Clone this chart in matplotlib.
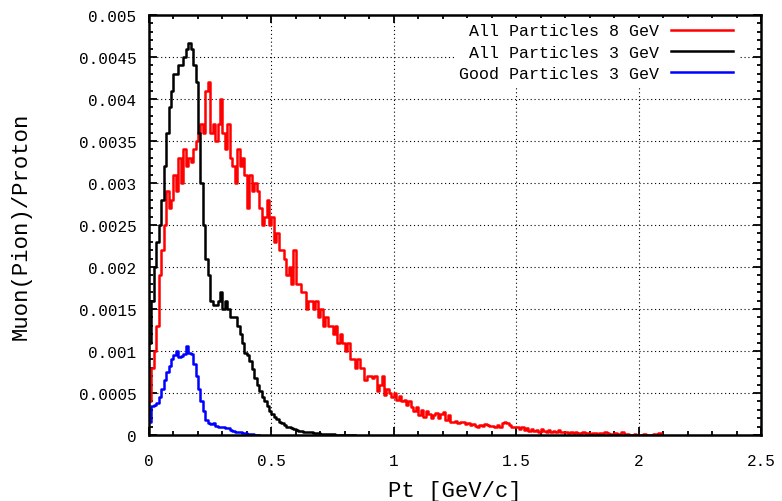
import numpy as np
import matplotlib
matplotlib.use("Agg")
import matplotlib.pyplot as plt
from matplotlib.ticker import MultipleLocator, FuncFormatter

plt.rcParams["font.family"] = ["Liberation Mono", "DejaVu Sans Mono"]

bin_width = 0.01

# All Particles 8 GeV (red), one value per 0.01 GeV/c bin starting at 0
all_8gev = [
    0.0004, 0.0008, 0.001, 0.0013, 0.0019, 0.0022, 0.0025, 0.0029, 0.0027, 0.0028,
    0.0031, 0.0029, 0.0033, 0.003, 0.0034, 0.0032, 0.0033, 0.00325, 0.0034, 0.0035,
    0.0036, 0.0037, 0.0036, 0.0041, 0.0042, 0.0036, 0.0037, 0.0035, 0.0037, 0.004,
    0.0036, 0.0034, 0.0037, 0.0033, 0.0032, 0.003, 0.0034, 0.0032, 0.0033, 0.0031,
    0.0027, 0.0031, 0.0029, 0.003, 0.0029, 0.0027, 0.0025, 0.0026, 0.0028, 0.0025,
    0.0026, 0.0023, 0.0024, 0.0022, 0.0022, 0.0021, 0.0019, 0.002, 0.0018, 0.0022,
    0.0018, 0.0018, 0.0017, 0.0017, 0.0015, 0.0016, 0.0016, 0.0015, 0.0016, 0.0014,
    0.0015, 0.0013, 0.0014, 0.0013, 0.0013, 0.0012, 0.0013, 0.0011, 0.0012, 0.0011,
    0.001, 0.0011, 0.0009, 0.0009, 0.0008, 0.0009, 0.0008, 0.0008, 0.00065, 0.0007,
    0.0007, 0.00068, 0.0007, 0.00052, 0.0006, 0.0007, 0.00048, 0.00055, 0.0005, 0.00045,
    0.0005, 0.00042, 0.00046, 0.0004, 0.00042, 0.00036, 0.0004, 0.00033, 0.00028, 0.00033,
    0.00024, 0.0003, 0.00022, 0.00028, 0.00025, 0.0002, 0.00024, 0.00026, 0.0002, 0.00025,
    0.00027, 0.00018, 0.00024, 0.00016, 0.00015, 0.00017, 0.00014, 0.00016, 0.00015, 0.00013,
    0.00014, 0.00012, 0.00013, 0.00011, 0.0001, 0.00012, 0.00011, 0.00013, 0.00012, 0.00011,
    0.00011, 0.0001, 0.00012, 0.0001, 0.00014, 0.00016, 0.00014, 0.00012, 0.0001, 0.00009,
    0.0001, 0.00007, 0.00009, 0.00006, 0.00008, 0.00005, 0.00007, 0.00005, 0.00006, 0.00004,
    0.00007, 0.00005, 0.00004, 0.00006, 0.00004, 0.00005, 0.00003, 0.00006, 0.00003, 0.00004,
    0.00003, 0.00002, 0.00003, 0.00002, 0.00003, 0.00002, 0.00002, 0.00003, 0.00002, 0.00002,
    0.00001, 0.00002, 0.00002, 0.00001, 0.00002, 0.00001, 0.00003, 0.00002, 0.00001, 0.00001,
    0.00002, 0.00001, 0.00001, 0.00003, 0.00001, 0.00001, 0.000005, 0.000005, 0.00001, 0.000005,
    0.000005, 0.000005, 0.00001, 0.000005, 0.000005, 0.000005, 0.00001, 0.000005, 0.000025,
]

# All Particles 3 GeV (black)
all_3gev = [
    0.0011, 0.0016, 0.002, 0.0023, 0.0025, 0.0028, 0.0032, 0.0036, 0.0039, 0.0041,
    0.0043, 0.0043, 0.0044, 0.0044, 0.0045, 0.0046, 0.00467, 0.0046, 0.0044, 0.0042,
    0.0036, 0.003, 0.0025, 0.0021, 0.0019, 0.0016, 0.00155, 0.00155, 0.0016, 0.0017,
    0.0015, 0.0016, 0.0015, 0.0014, 0.0014, 0.0014, 0.0013, 0.0012, 0.0011, 0.00098,
    0.00095, 0.00088, 0.00078, 0.00068, 0.0006, 0.00052, 0.00045, 0.0004, 0.00034, 0.00029,
    0.00025, 0.00022, 0.00019, 0.00016, 0.00014, 0.00012, 0.0001, 0.00009, 0.00008, 0.00007,
    0.00006, 0.00005, 0.00005, 0.00004, 0.00004, 0.00003, 0.00003, 0.00002, 0.00002, 0.00002,
    0.00001, 0.00001, 0.00001, 0.00001, 0.000008, 0.000008, 0.000005, 0.000005, 0.000005, 0.000003,
    0.000003, 0.000002, 0.000002, 0.000002,
]

# Good Particles 3 GeV (blue)
good_3gev = [
    0.00015, 0.00035, 0.00036, 0.00038, 0.00045, 0.00055, 0.00065, 0.00075, 0.00082, 0.0009,
    0.00095, 0.001, 0.00093, 0.00094, 0.00097, 0.00106, 0.00098, 0.00096, 0.00085, 0.0007,
    0.00055, 0.0004, 0.00028, 0.00018, 0.00014, 0.00013, 0.00014, 0.00011, 0.0001, 0.0001,
    0.00009, 0.00008, 0.00008, 0.00006, 0.00005, 0.00004, 0.00003, 0.00003, 0.00002, 0.00002,
    0.00001, 0.00001, 0.00001, 0.000005, 0.000005,
]

series = [
    ("All Particles 8 GeV", all_8gev, "#ff0000"),
    ("All Particles 3 GeV", all_3gev, "#000000"),
    ("Good Particles 3 GeV", good_3gev, "#0000ff"),
]

fig = plt.figure(figsize=(7.82, 5.02), dpi=100)
ax = fig.add_axes([149 / 782, 66 / 502, 612 / 782, 420 / 502])

for label, vals, color in series:
    vals = np.asarray(vals)
    edges = np.arange(len(vals) + 1) * bin_width
    ax.step(edges, np.r_[vals, 0.0], where="post", color=color, lw=1.8, label=label)

ax.set_xlim(0, 2.5)
ax.set_ylim(0, 0.005)
ax.xaxis.set_major_locator(MultipleLocator(0.5))
ax.xaxis.set_minor_locator(MultipleLocator(0.1))
ax.yaxis.set_major_locator(MultipleLocator(0.0005))
ax.yaxis.set_minor_locator(MultipleLocator(0.0001))
fmt = FuncFormatter(lambda v, p: "%g" % round(v, 6))
ax.xaxis.set_major_formatter(fmt)
ax.yaxis.set_major_formatter(fmt)

ax.tick_params(which="both", direction="in", top=True, right=True, width=1.3, labelsize=11.5)
ax.tick_params(which="major", length=6)
ax.tick_params(which="minor", length=3)
ax.tick_params(axis="x", pad=13)
ax.tick_params(axis="y", pad=9)
for s in ax.spines.values():
    s.set_linewidth(1.8)

ax.grid(True, which="major", color="black", linestyle=(0, (1, 2.5)), linewidth=0.8)
ax.set_axisbelow(True)

ax.set_xlabel("Pt [GeV/c]", fontsize=16)
ax.set_ylabel("Muon(Pion)/Proton", fontsize=16)
ax.xaxis.set_label_coords(0.5, -0.106)
ax.yaxis.set_label_coords(-0.192, 0.5)

leg = ax.legend(loc="upper right", bbox_to_anchor=(0.962, 0.992), markerfirst=False,
                fontsize=12, handlelength=3.7, handletextpad=0.7, labelspacing=0.37,
                borderpad=0.3, borderaxespad=0, fancybox=False, framealpha=1)
leg.get_frame().set_edgecolor("none")

fig.savefig("out.png", dpi=100)
